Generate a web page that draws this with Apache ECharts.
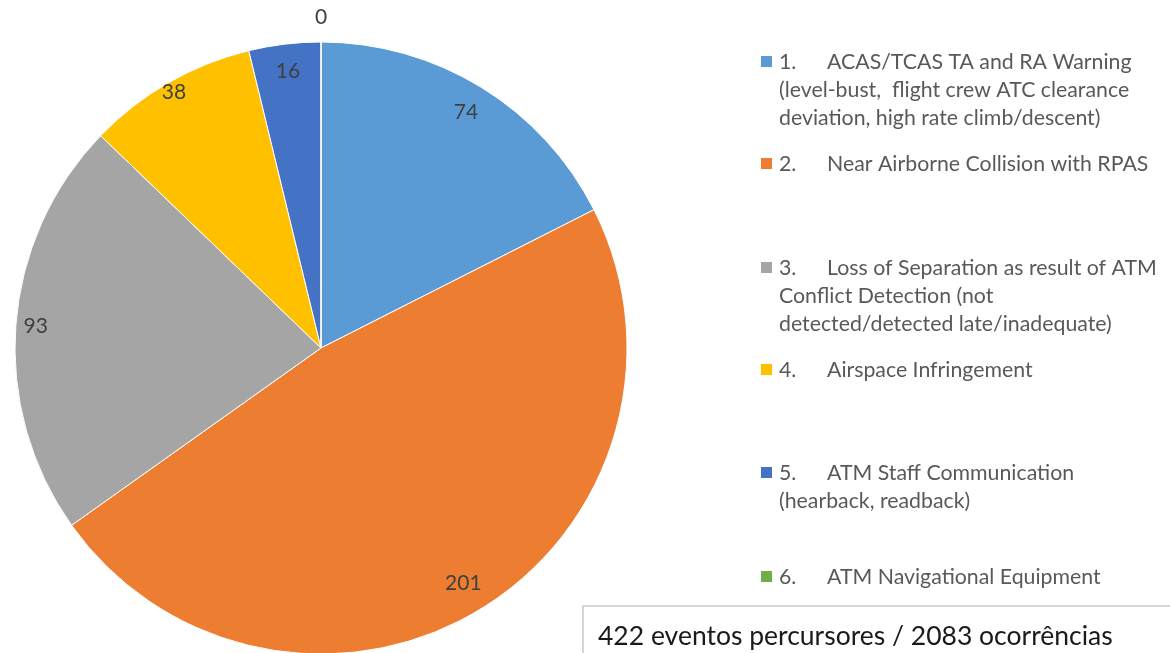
<!DOCTYPE html>
<html>
<head>
<meta charset="utf-8">
<script src="https://cdn.jsdelivr.net/npm/echarts@6/dist/echarts.min.js"></script>
<style>html,body{margin:0;padding:0;background:#fff;}#c{width:1170px;height:653px;}</style>
</head>
<body>
<div id="c"></div>
<script>
// ---- data ----
const categories = [
  "1. ACAS/TCAS TA and RA Warning",
  "2. Near Airborne Collision with RPAS",
  "3. Loss of Separation as result of ATM Conflict Detection",
  "4. Airspace Infringement",
  "5. ATM Staff Communication",
  "6. ATM Navigational Equipment"
];
const values = [74, 201, 93, 38, 16, 0];
const legendNumbers = ["1.", "2.", "3.", "4.", "5.", "6."];
const legendLines = [
  ["ACAS/TCAS TA and RA Warning", "(level-bust,  flight crew ATC clearance", "deviation, high rate climb/descent)"],
  ["Near Airborne Collision with RPAS"],
  ["Loss of Separation as result of ATM", "Conflict Detection (not", "detected/detected late/inadequate)"],
  ["Airspace Infringement"],
  ["ATM Staff Communication", "(hearback, readback)"],
  ["ATM Navigational Equipment"]
];
const footnote = "422 eventos percursores / 2083 ocorrências";

// ---- style ----
const colors = ["#5B9BD5", "#ED7D31", "#A5A5A5", "#FFC000", "#4472C4", "#70AD47"];
const FONT = "Lato, 'Noto Sans', sans-serif";
const CX = 321, CY = 348, R = 306;
const labelRadiusFrac = [0.895, 0.89, 0.925, 0.955, 0.9, 1.07];
const legendTop = [62, 164, 268, 370, 473, 577];
const legendLineH = 28;
const legendFont = '21.3px ' + FONT;

const chart = echarts.init(document.getElementById('c'), null, {renderer: 'canvas'});

const baseData = categories.map((n, i) => ({name: n, value: values[i], itemStyle: {color: colors[i]}}));

const series = [{
  type: 'pie',
  center: [CX, CY],
  radius: [0, R],
  startAngle: 90,
  clockwise: true,
  avoidLabelOverlap: false,
  silent: true,
  animation: false,
  label: {show: false},
  labelLine: {show: false},
  itemStyle: {borderColor: '#ffffff', borderWidth: 1},
  data: baseData
}];

// hidden label series: one per item, so each label sits at its own radius
values.forEach((v, i) => {
  series.push({
    type: 'pie',
    center: [CX, CY],
    radius: [0, 2 * labelRadiusFrac[i] * R],
    startAngle: 90,
    clockwise: true,
    avoidLabelOverlap: false,
    silent: true,
    animation: false,
    minShowLabelAngle: 0,
    itemStyle: {color: 'rgba(0,0,0,0)', borderWidth: 0},
    labelLine: {show: false},
    emphasis: {disabled: true},
    data: categories.map((n, j) => ({
      name: n, value: values[j],
      label: {
        show: j === i,
        position: 'inside',
        formatter: '{c}',
        color: '#404040',
        fontFamily: FONT,
        fontSize: 21
      }
    }))
  });
});

// legend drawn as graphic elements
const graphics = [];
legendLines.forEach((lines, i) => {
  const y0 = legendTop[i];
  graphics.push({
    type: 'rect', silent: true,
    shape: {x: 761, y: y0 - 6, width: 11, height: 11},
    style: {fill: colors[i]}
  });
  graphics.push({
    type: 'text', silent: true, x: 779, y: y0,
    style: {text: legendNumbers[i], fill: '#595959', font: legendFont, verticalAlign: 'middle'}
  });
  lines.forEach((t, k) => {
    graphics.push({
      type: 'text', silent: true,
      x: k === 0 ? 827 : 779, y: y0 + k * legendLineH,
      style: {text: t, fill: '#595959', font: legendFont, verticalAlign: 'middle'}
    });
  });
});
// footnote box
graphics.push({
  type: 'rect', silent: true,
  shape: {x: 583, y: 606, width: 600, height: 60},
  style: {fill: '#ffffff', stroke: '#c8c8c8', lineWidth: 1.5}
});
graphics.push({
  type: 'text', silent: true, x: 598, y: 636,
  style: {text: footnote, fill: '#1a1a1a', font: '26.5px ' + FONT, verticalAlign: 'middle'}
});

chart.setOption({
  backgroundColor: '#ffffff',
  animation: false,
  series: series,
  graphic: graphics
});
</script>
</body>
</html>
